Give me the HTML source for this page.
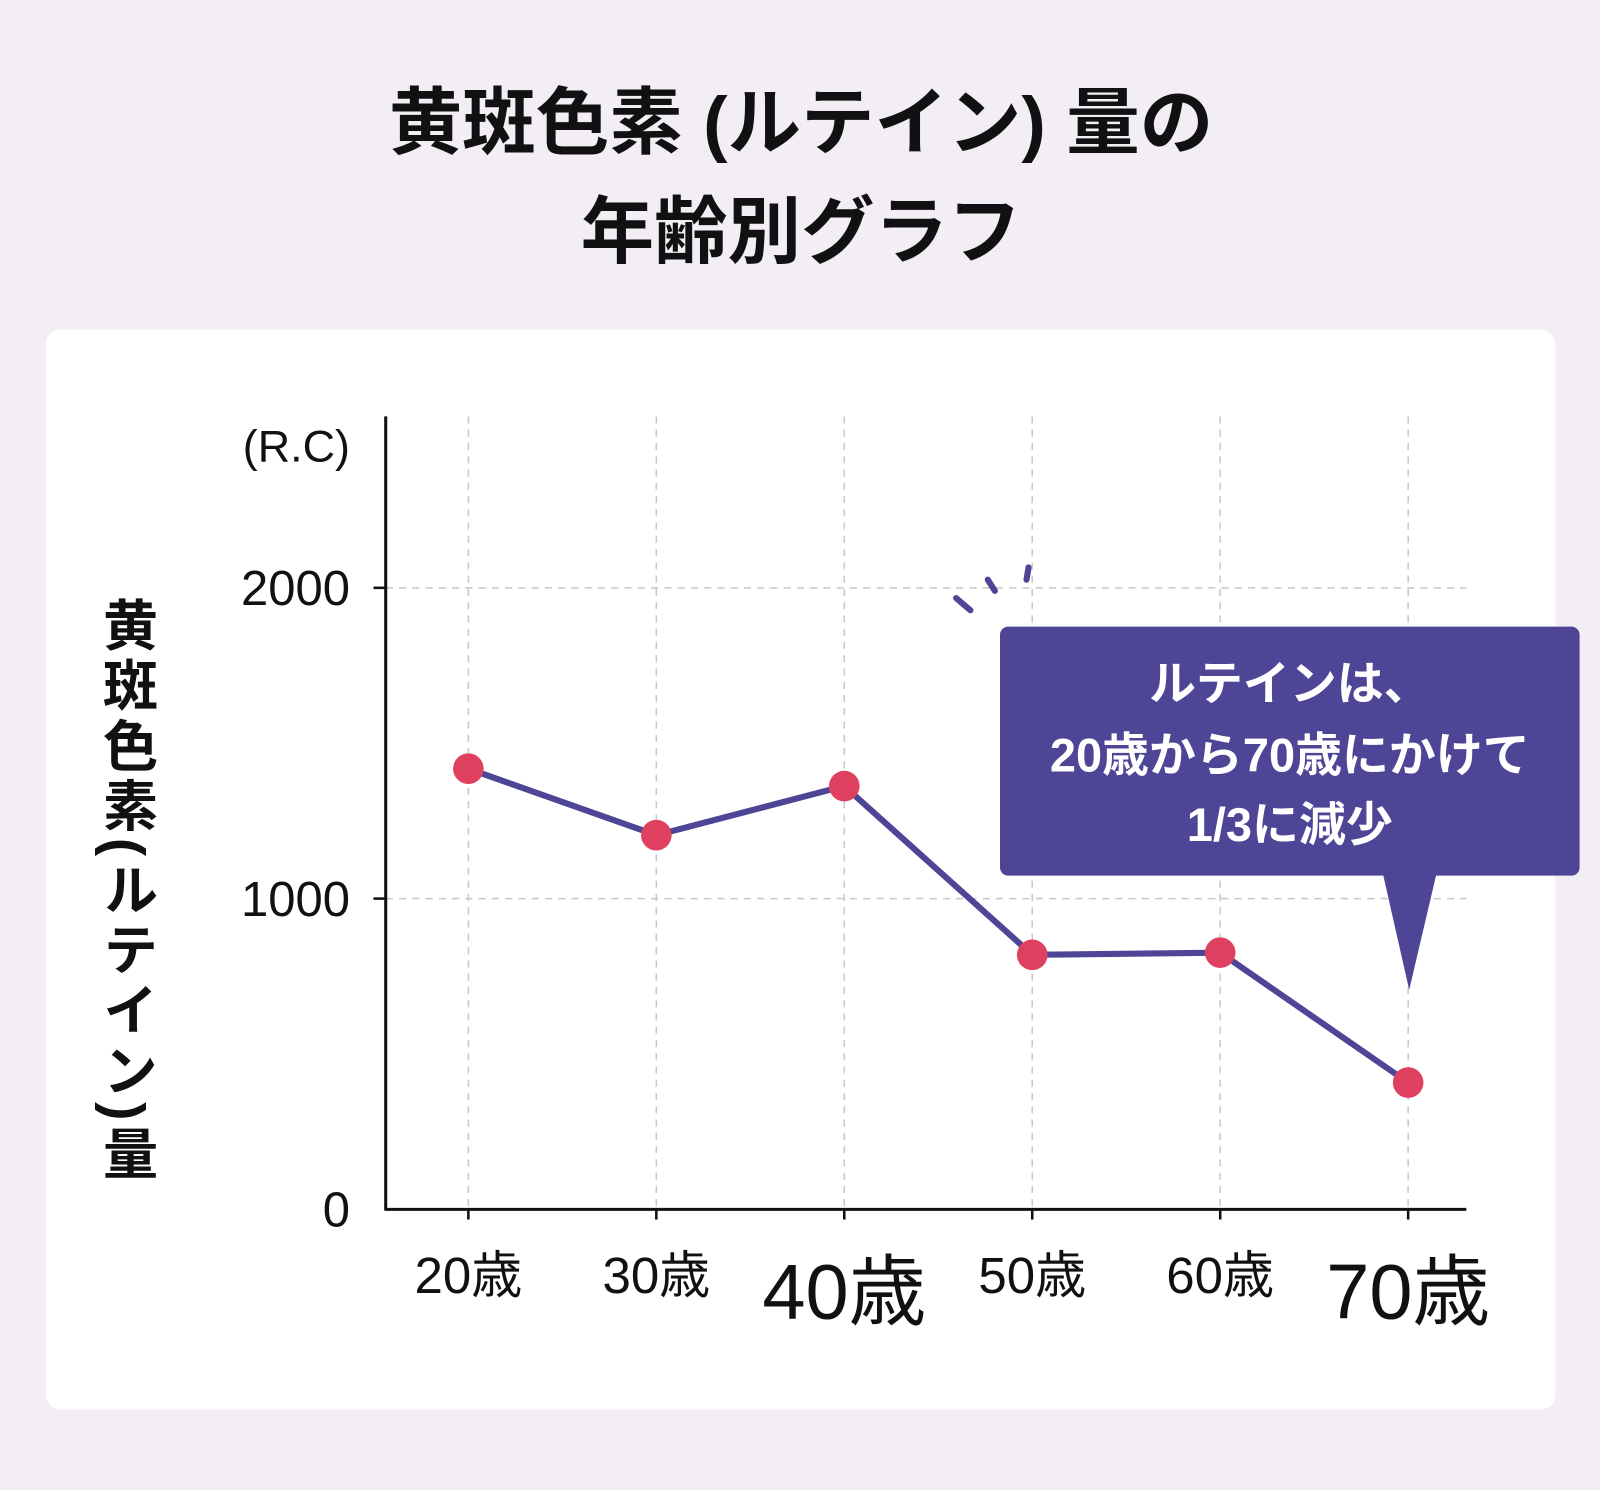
<!DOCTYPE html>
<html><head><meta charset="utf-8">
<style>
html,body{margin:0;padding:0;background:#f3eef6;}
svg{display:block;}
text{font-family:"Liberation Sans","Noto Sans CJK JP",sans-serif;}
</style></head>
<body>
<svg id="chart" width="1600" height="1490" viewBox="0 0 1568 1460" preserveAspectRatio="none" xmlns="http://www.w3.org/2000/svg">
  <rect x="0" y="0" width="1568" height="1460" fill="#f3eef6"/>
  <text x="785" y="145" text-anchor="middle" font-size="72" font-weight="bold" fill="#111">黄斑色素 (ルテイン) 量の</text>
  <text x="785" y="252" text-anchor="middle" font-size="72" font-weight="bold" fill="#111">年齢別グラフ</text>
  <rect x="45" y="323" width="1479" height="1058" rx="14" fill="#ffffff"/>
  <g id="grid"></g>
  <g id="axes"></g>
  <text x="343" y="452" text-anchor="end" font-size="44" fill="#111">(R.C)</text>
  <text x="123" y="585" font-size="54" font-weight="bold" fill="#111" letter-spacing="5" style="writing-mode:vertical-rl;glyph-orientation-vertical:0" >黄斑色素(ルテイン)量</text>
  <g id="ticks"></g>
  <g id="series"></g>
  <g stroke="#4e4597" stroke-width="6" stroke-linecap="round">
    <line x1="937" y1="586" x2="951" y2="598"/>
    <line x1="968" y1="568" x2="975" y2="579"/>
    <line x1="1008" y1="556" x2="1006" y2="568"/>
  </g>
  <g>
    <rect x="980" y="614" width="568" height="244" rx="8" fill="#4e4597"/>
    <polygon points="1355,855 1408,855 1381,970" fill="#4e4597"/>
    <text x="1264" y="686" text-anchor="middle" font-size="46" font-weight="bold" fill="#fff">ルテインは、</text>
    <text x="1264" y="756" text-anchor="middle" font-size="46" font-weight="bold" fill="#fff">20歳から70歳にかけて</text>
    <text x="1264" y="824" text-anchor="middle" font-size="46" font-weight="bold" fill="#fff">1/3に減少</text>
  </g>
</svg>
<script>
const categories = ["20歳","30歳","40歳","50歳","60歳","70歳"];
const values = [1418, 1204, 1362, 819, 826, 408];
const yTicks = [0, 1000, 2000];
const yTickLabels = ["0","1000","2000"];
const emphasized = [false,false,true,false,false,true];

const NS = "http://www.w3.org/2000/svg";
const X0 = 459, X1 = 1380, Y0 = 1185, PX1000 = 304.5;
function xPos(i){ return X0 + i*(X1-X0)/(categories.length-1); }
function yPos(v){ return Y0 - v/1000*PX1000; }
function mk(tag, attrs, parent){ const e=document.createElementNS(NS,tag); for(const k in attrs) e.setAttribute(k,attrs[k]); parent.appendChild(e); return e; }

const grid=document.getElementById('grid'), axes=document.getElementById('axes'), ticks=document.getElementById('ticks'), series=document.getElementById('series');
categories.forEach((c,i)=>{
  const l=mk('line',{x1:xPos(i),x2:xPos(i),y1:408,y2:Y0,stroke:'#c8c8c8','stroke-width':1.5,'stroke-dasharray':'7 6'},grid);
  
  
  const t=mk('line',{x1:xPos(i),x2:xPos(i),y1:Y0,y2:Y0+10,stroke:'#111','stroke-width':2.5},axes);
  
  
  const big=emphasized[i];
  const tx=mk('text',{x:xPos(i),y:big?1292:1267,'text-anchor':'middle','font-size':big?76:50,fill:'#111'},ticks);
  tx.textContent=c;
  
  
});
yTicks.forEach((v,i)=>{
  if(v>0){
    const g=mk('line',{x1:378,x2:1437,y1:yPos(v),y2:yPos(v),stroke:'#c8c8c8','stroke-width':1.5,'stroke-dasharray':'7 6'},grid);
    
    
    const t=mk('line',{x1:366,x2:378,y1:yPos(v),y2:yPos(v),stroke:'#111','stroke-width':2.5},axes);
    
    
  }
  const tx=mk('text',{x:343,y:yPos(v)+17,'text-anchor':'end','font-size':48,fill:'#111'},ticks);
  tx.textContent=yTickLabels[i];
  
  
});
const ya=mk('line',{x1:378,x2:378,y1:408,y2:Y0+1,stroke:'#111','stroke-width':3},axes);


const xa=mk('line',{x1:377,x2:1437,y1:Y0,y2:Y0,stroke:'#111','stroke-width':3},axes);



const pl=mk('polyline',{points:values.map((v,i)=>xPos(i)+','+yPos(v)).join(' '),fill:'none',stroke:'#4e4597','stroke-width':6,'stroke-linejoin':'round'},series);


values.forEach((v,i)=>{
  const c=mk('circle',{cx:xPos(i),cy:yPos(v),r:15,fill:'#e0405f'},series);
  
  
});
</script>
</body></html>
